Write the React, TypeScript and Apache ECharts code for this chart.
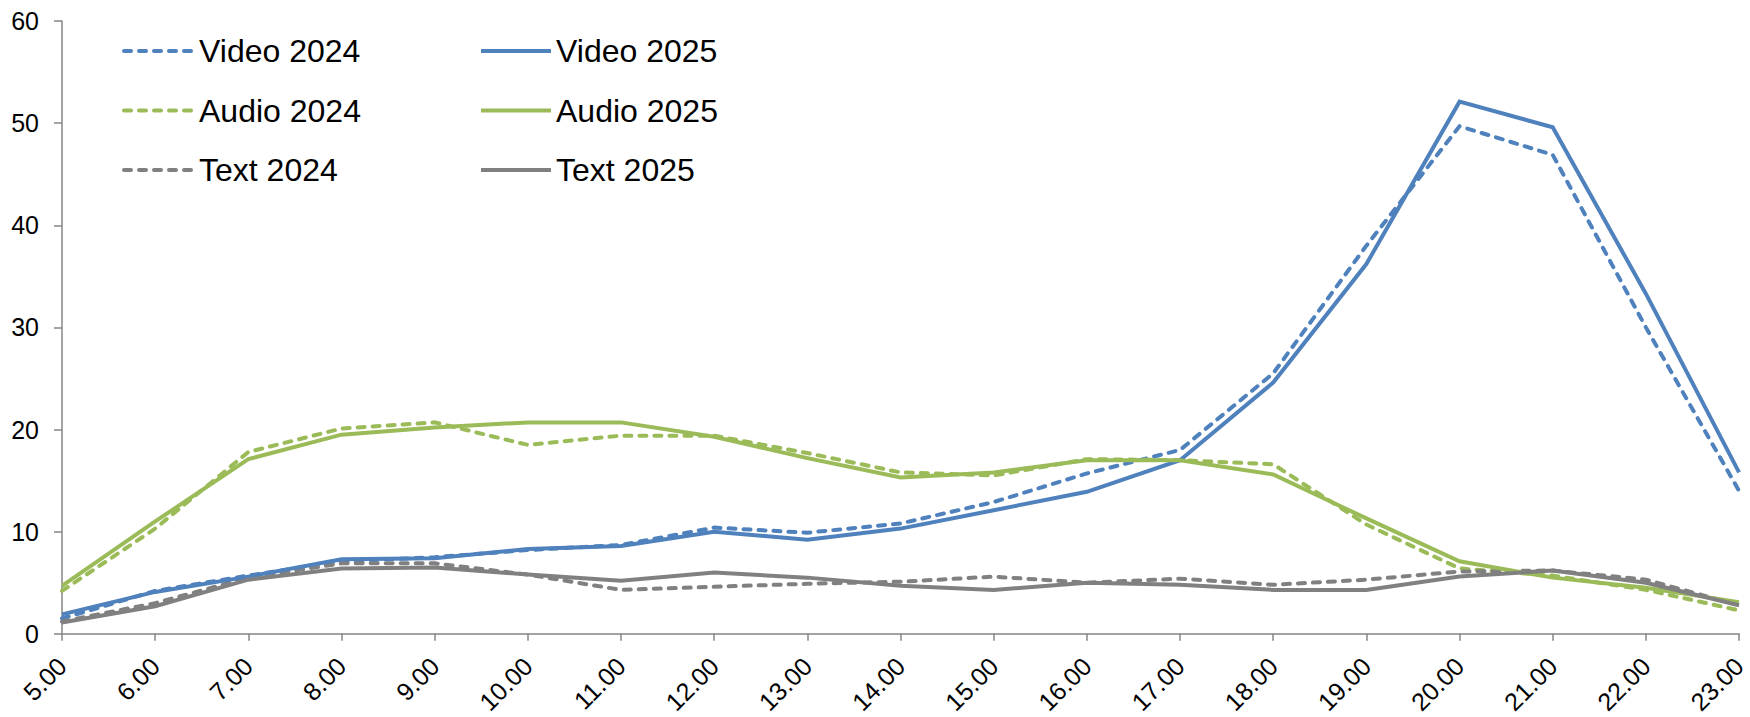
import React, { useEffect, useRef } from "react";
import * as echarts from "echarts";

const hours = ["5.00","6.00","7.00","8.00","9.00","10.00","11.00","12.00","13.00","14.00","15.00","16.00","17.00","18.00","19.00","20.00","21.00","22.00","23.00"];
const video2024 = [1.5, 4.2, 5.7, 7.1, 7.5, 8.2, 8.7, 10.4, 9.9, 10.8, 12.9, 15.7, 18.0, 25.5, 38.0, 49.7, 46.9, 30.0, 14.0];
const video2025 = [1.9, 4.1, 5.6, 7.3, 7.4, 8.3, 8.6, 10.0, 9.2, 10.3, 12.1, 13.9, 17.0, 24.6, 36.2, 52.1, 49.6, 33.3, 15.8];
const audio2024 = [4.2, 10.3, 17.8, 20.1, 20.7, 18.5, 19.4, 19.4, 17.7, 15.8, 15.5, 17.1, 17.0, 16.6, 10.7, 6.4, 5.7, 4.3, 2.3];
const audio2025 = [4.7, 11.0, 17.1, 19.5, 20.2, 20.7, 20.7, 19.3, 17.2, 15.3, 15.8, 17.0, 17.0, 15.6, 11.3, 7.1, 5.5, 4.5, 3.1];
const text2024 = [1.2, 3.0, 5.5, 6.9, 6.9, 5.8, 4.3, 4.6, 4.9, 5.1, 5.6, 5.0, 5.4, 4.8, 5.3, 6.1, 6.2, 5.3, 2.8];
const text2025 = [1.1, 2.7, 5.3, 6.4, 6.5, 5.8, 5.2, 6.0, 5.5, 4.7, 4.3, 5.0, 4.8, 4.3, 4.3, 5.6, 6.2, 5.0, 2.8];
const yTicks = { min: 0, max: 60, interval: 10 };

const BLUE = "#4F81BD";
const GREEN = "#9BBB59";
const GRAY = "#808080";
const AXIS = "#868686";
const FONT = "Liberation Sans, Arial, sans-serif";

export default function App() {
  const ref = useRef<HTMLDivElement>(null);
  useEffect(() => {
    if (!ref.current) return;
    const chart = echarts.init(ref.current, null, { renderer: "svg" });
    const mk = (name: string, data: number[], color: string, dashed: boolean) => ({
      name,
      type: "line",
      data,
      symbol: "none",
      showSymbol: false,
      z: dashed ? 2 : 3,
      lineStyle: {
        color,
        width: 4,
        type: dashed ? [7, 8] : "solid",
        cap: dashed ? "round" : "butt",
        join: "miter",
      },
      itemStyle: { color },
    });
    const legendCommon = {
      orient: "vertical",
      top: 30,
      itemWidth: 70,
      itemHeight: 14,
      itemGap: 27.5,
      itemStyle: { opacity: 0 },
      lineStyle: { width: 4 },
      textStyle: { fontFamily: FONT, fontSize: 32, color: "#000" },
      selectedMode: false,
    };
    chart.setOption({
      animation: false,
      backgroundColor: "#fff",
      grid: { left: 62, right: 5, top: 21, bottom: 80, containLabel: false },
      legend: [
        { ...legendCommon, left: 117, data: ["Video 2024", "Audio 2024", "Text 2024"] },
        { ...legendCommon, left: 474, data: ["Video 2025", "Audio 2025", "Text 2025"] },
      ],
      xAxis: {
        type: "category",
        data: hours,
        boundaryGap: false,
        axisLine: { lineStyle: { color: AXIS, width: 1.5 } },
        axisTick: { show: true, length: 7, lineStyle: { color: AXIS, width: 1.5 }, alignWithLabel: true },
        axisLabel: { rotate: 45, margin: 28, fontFamily: FONT, fontSize: 25, color: "#000", interval: 0 },
        splitLine: { show: false },
      },
      yAxis: {
        type: "value",
        min: yTicks.min,
        max: yTicks.max,
        interval: yTicks.interval,
        axisLine: { show: true, lineStyle: { color: AXIS, width: 1.5 } },
        axisTick: { show: true, length: 8, lineStyle: { color: AXIS, width: 1.5 } },
        axisLabel: { margin: 23, fontFamily: FONT, fontSize: 25, color: "#000" },
        splitLine: { show: false },
      },
      series: [
        mk("Video 2024", video2024, BLUE, true),
        mk("Audio 2024", audio2024, GREEN, true),
        mk("Text 2024", text2024, GRAY, true),
        mk("Video 2025", video2025, BLUE, false),
        mk("Audio 2025", audio2025, GREEN, false),
        mk("Text 2025", text2025, GRAY, false),
      ],
    });
    return () => chart.dispose();
  }, []);
  return (
    <div
      ref={ref}
      style={{ position: "fixed", left: 0, top: 0, width: 1750, height: 717, background: "#fff" }}
    />
  );
}
